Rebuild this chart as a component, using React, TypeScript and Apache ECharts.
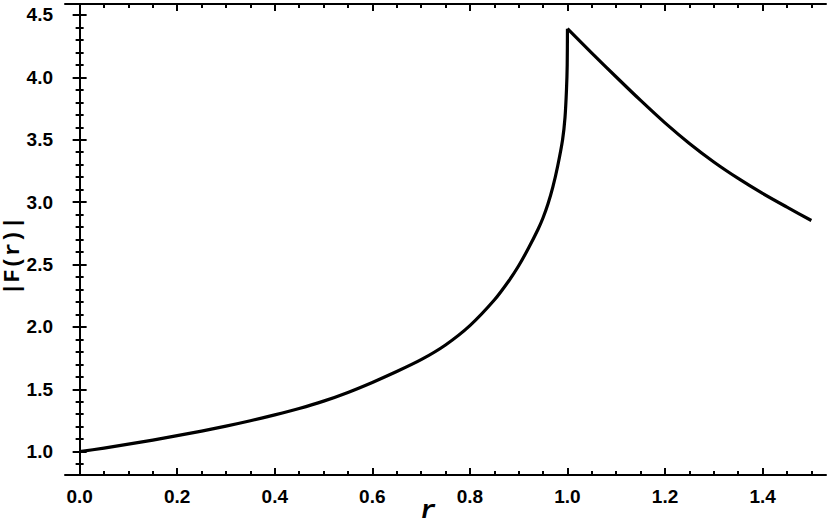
import React, { useEffect, useRef } from "react";
import * as echarts from "echarts";

const rInner = [
  0, 0.05, 0.1, 0.15, 0.2, 0.25, 0.3, 0.35, 0.4, 0.45, 0.5, 0.55, 0.6, 0.65, 0.7, 0.75, 0.8,
  0.85, 0.88, 0.9, 0.92, 0.94, 0.95, 0.96, 0.97, 0.98, 0.99, 0.995, 0.998, 0.9995, 1.0,
];
const fInner = [
  1.0, 1.029, 1.06, 1.093, 1.128, 1.165, 1.205, 1.248, 1.295, 1.346, 1.405, 1.475, 1.555, 1.642, 1.737, 1.855, 2.01,
  2.215, 2.37, 2.49, 2.63, 2.785, 2.875, 2.985, 3.12, 3.29, 3.5, 3.68, 3.9, 4.1, 4.39,
];
const rOuter = [1.0, 1.05, 1.1, 1.15, 1.2, 1.25, 1.3, 1.35, 1.4, 1.45, 1.5];
const fOuter = [4.39, 4.195, 4.003, 3.815, 3.635, 3.47, 3.322, 3.19, 3.07, 2.96, 2.853];

const xMajor = [0, 0.2, 0.4, 0.6, 0.8, 1.0, 1.2, 1.4];
const xMinor = [0.05, 0.1, 0.15, 0.25, 0.3, 0.35, 0.45, 0.5, 0.55, 0.65, 0.7, 0.75, 0.85, 0.9, 0.95, 1.05, 1.1, 1.15, 1.25, 1.3, 1.35, 1.45, 1.5];
const yMajor = [1.0, 1.5, 2.0, 2.5, 3.0, 3.5, 4.0, 4.5];
const yMinor = [0.9, 1.1, 1.2, 1.3, 1.4, 1.6, 1.7, 1.8, 1.9, 2.1, 2.2, 2.3, 2.4, 2.6, 2.7, 2.8, 2.9, 3.1, 3.2, 3.3, 3.4, 3.6, 3.7, 3.8, 3.9, 4.1, 4.2, 4.3, 4.4];

const X_MIN = -0.03, X_MAX = 1.53, Y_MIN = 0.813, Y_MAX = 4.588;

export default function App() {
  const ref = useRef<HTMLDivElement>(null);
  useEffect(() => {
    if (!ref.current) return;
    const chart = echarts.init(ref.current, null, { renderer: "svg" });
    const labelStyle = {
      fontFamily: "'Liberation Sans', Arial, sans-serif",
      fontWeight: "bold" as const,
      fontSize: 19,
      color: "#000",
    };
    const gridRect = { left: 65, top: 4, width: 761, height: 471 };
    const xAx = (grid: number, pos: string, vals: number[], len: number, labels: boolean, line: boolean) => ({
      type: "value",
      gridIndex: grid,
      position: pos,
      min: X_MIN,
      max: X_MAX,
      axisLine: { show: line, lineStyle: { color: "#000", width: 2 } },
      axisTick: { show: true, inside: true, length: len, customValues: vals, lineStyle: { color: "#000", width: 2 } },
      axisLabel: labels
        ? { show: true, customValues: vals, margin: 12, formatter: (v: number) => v.toFixed(1), ...labelStyle }
        : { show: false },
      splitLine: { show: false },
    });
    const yAx = (grid: number, pos: string, vals: number[], len: number, labels: boolean, line: boolean) => ({
      type: "value",
      gridIndex: grid,
      position: pos,
      min: Y_MIN,
      max: Y_MAX,
      axisLine: { show: line, lineStyle: { color: "#000", width: 2 } },
      axisTick: { show: true, inside: true, length: len, customValues: vals, lineStyle: { color: "#000", width: 2 } },
      axisLabel: labels
        ? { show: true, customValues: vals, margin: 12, formatter: (v: number) => v.toFixed(1), ...labelStyle }
        : { show: false },
      splitLine: { show: false },
    });
    const lineSeries = (rs: number[], fs: number[]) => ({
      type: "line",
      xAxisIndex: 0,
      yAxisIndex: 0,
      data: rs.map((r, i) => [r, fs[i]]),
      showSymbol: false,
      smooth: 0.25,
      lineStyle: { color: "#000", width: 3.2, join: "miter" },
    });
    chart.setOption({
      animation: false,
      grid: [gridRect, gridRect],
      xAxis: [
        xAx(0, "bottom", xMajor, 7, true, true),
        xAx(0, "top", xMajor, 7, false, true),
        xAx(1, "bottom", xMinor, 4, false, false),
        xAx(1, "top", xMinor, 4, false, false),
      ],
      yAxis: [
        yAx(0, "left", yMajor, 7, true, true),
        yAx(0, "right", yMajor, 7, false, true),
        yAx(1, "left", yMinor, 4, false, false),
        yAx(1, "right", yMinor, 4, false, false),
      ],
      series: [lineSeries(rInner, fInner), lineSeries(rOuter, fOuter)],
      graphic: [
        {
          type: "text",
          x: 13,
          y: 256,
          rotation: Math.PI / 2,
          style: {
            text: "|F(r)|",
            align: "center",
            verticalAlign: "middle",
            fontFamily: "'Liberation Mono', 'Courier New', monospace",
            fontWeight: "bold",
            fontSize: 22,
            fill: "#000",
          },
        },
        {
          type: "text",
          x: 428,
          y: 511,
          style: {
            text: "r",
            align: "center",
            verticalAlign: "middle",
            fontFamily: "'Liberation Mono', 'Courier New', monospace",
            fontWeight: "bold",
            fontStyle: "italic",
            fontSize: 26,
            fill: "#000",
          },
        },
      ],
    });
    return () => chart.dispose();
  }, []);
  return <div ref={ref} style={{ width: 830, height: 526, position: "absolute", left: 0, top: 0 }} />;
}
